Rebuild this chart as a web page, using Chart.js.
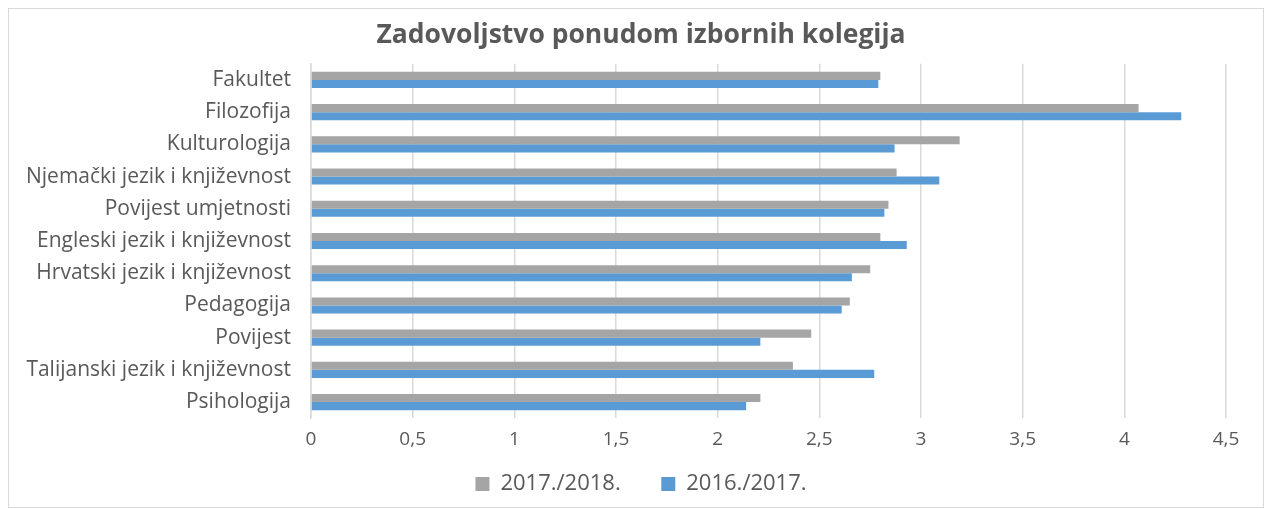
<!DOCTYPE html>
<html>
<head>
<meta charset="utf-8">
<script src="https://cdn.jsdelivr.net/npm/chart.js@4"></script>
<style>
  body { margin: 0; background: #fff; }
  #okvir {
    position: absolute; left: 8px; top: 8px;
    width: 1254px; height: 498px;
    border: 1px solid #d9d9d9; background: #fff;
  }
</style>
</head>
<body>
<div id="okvir"><canvas id="myChart"></canvas></div>
<script>
const kategorije = [
  "Fakultet",
  "Filozofija",
  "Kulturologija",
  "Njemački jezik i književnost",
  "Povijest umjetnosti",
  "Engleski jezik i književnost",
  "Hrvatski jezik i književnost",
  "Pedagogija",
  "Povijest",
  "Talijanski jezik i književnost",
  "Psihologija",
];
const vrijednosti1718 = [2.80, 4.07, 3.19, 2.88, 2.84, 2.80, 2.75, 2.65, 2.46, 2.37, 2.21];
const vrijednosti1617 = [2.79, 4.28, 2.87, 3.09, 2.82, 2.93, 2.66, 2.61, 2.21, 2.77, 2.14];
const xTicks = [0, 0.5, 1, 1.5, 2, 2.5, 3, 3.5, 4, 4.5];

const siva = "#a5a5a5";
const plava = "#5b9bd5";
const tekst = "#595959";

const ctx = document.getElementById("myChart");

new Chart(ctx, {
  type: "bar",
  data: {
    labels: kategorije,
    datasets: [
      {
        label: "2017./2018.",
        data: vrijednosti1718,
        backgroundColor: siva,
        categoryPercentage: 0.5,
        barPercentage: 1,
      },
      {
        label: "2016./2017.",
        data: vrijednosti1617,
        backgroundColor: plava,
        categoryPercentage: 0.5,
        barPercentage: 1,
      },
    ],
  },
  options: {
    indexAxis: "y",
    responsive: true,
    maintainAspectRatio: false,
    animation: false,
    layout: { padding: { left: 10, right: 0, top: 0, bottom: 2 } },
    plugins: {
      title: {
        display: true,
        text: "Zadovoljstvo ponudom izbornih kolegija",
        color: tekst,
        font: { family: "Open Sans", size: 26.5, weight: "bold" },
        padding: { top: 11, bottom: 12 },
      },
      legend: {
        position: "bottom",
        labels: {
          color: tekst,
          font: { family: "Open Sans", size: 22 },
          boxWidth: 14,
          boxHeight: 14,
          padding: 12,
          // razmak izmedju dvije stavke legende kao u Excelu
          generateLabels: (chart) => {
            const items = Chart.defaults.plugins.legend.labels.generateLabels(chart);
            items.forEach((it, i) => {
              if (i < items.length - 1) it.text = it.text + "\u00a0".repeat(5);
            });
            return items;
          },
        },
      },
      tooltip: { enabled: false },
    },
    scales: {
      x: {
        min: 0,
        max: 4.5,
        afterBuildTicks: (axis) => {
          axis.ticks = xTicks.map((v) => ({ value: v }));
        },
        ticks: {
          color: tekst,
          font: { family: "Open Sans", size: 19 },
          padding: 10,
          callback: (v) => String(v).replace(".", ","),
        },
        grid: { color: "#d9d9d9", lineWidth: 1.5, drawTicks: false },
        border: { display: false },
      },
      y: {
        afterFit: (axis) => {
          axis.width = 292;
        },
        ticks: {
          color: tekst,
          font: { family: "Open Sans", size: 21 },
          padding: 20,
        },
        grid: { display: false, drawTicks: false },
        border: { display: true, color: "#d9d9d9", width: 1.5 },
      },
      y2: {
        position: "right",
        afterFit: (axis) => {
          axis.width = 37;
        },
        ticks: { display: false },
        grid: { display: false, drawTicks: false },
        border: { display: false },
      },
    },
  },
});
</script>
</body>
</html>
